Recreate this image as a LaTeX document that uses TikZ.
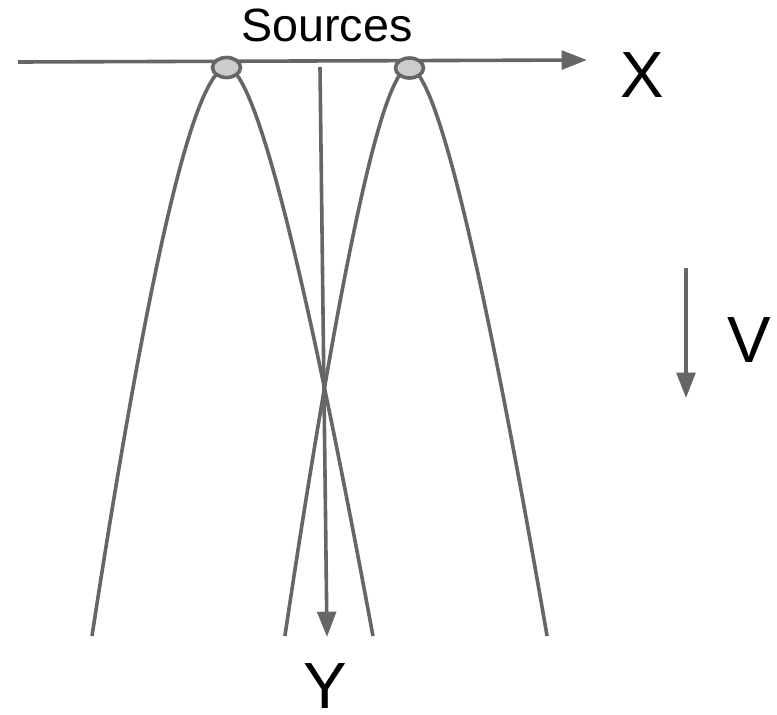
\documentclass[tikz,border=0pt]{standalone}
\usepackage{fontspec}
\setmainfont{Liberation Sans}
\usetikzlibrary{arrows.meta,shapes.geometric}
\definecolor{ln}{HTML}{666666}
\definecolor{srcfill}{HTML}{CCCCCC}
\begin{document}
\begin{tikzpicture}[x=0.75pt,y=-0.75pt,
  curve/.style={draw=ln,line width=2.7pt,line join=round},
  axis/.style={draw=ln,line width=2.7pt,-{Triangle[length=19pt,width=14pt]}},
  src/.style={ellipse,draw=ln,fill=srcfill,line width=2.7pt,inner sep=0pt,minimum width=21pt,minimum height=15pt},
  biglbl/.style={anchor=base,font=\fontsize{49}{55}\selectfont,inner sep=0pt},
  smlbl/.style={anchor=base,font=\fontsize{35}{40}\selectfont,inner sep=0pt},
  leg/.style={samples=90,variable=\t,smooth}]
\useasboundingbox (0,0) rectangle (777,714);
% wavefronts
\draw[curve] plot[leg,domain=568:0] ({227-4.02*sqrt(\t)-0.069*\t},{68+\t})
          -- plot[leg,domain=0:568] ({227+3.42*sqrt(\t)+0.1135*\t},{68+\t});
\draw[curve] plot[leg,domain=568:0] ({409-3.27*sqrt(\t)-0.0813*\t},{68+\t})
          -- plot[leg,domain=0:568] ({409+3.32*sqrt(\t)+0.1038*\t},{68+\t});
% axes
\coordinate (xs) at (18,62);
\coordinate (xe) at (587,60);
\coordinate (ys) at (320,67);
\coordinate (ye) at (327,637);
\coordinate (vs) at (686,268);
\coordinate (ve) at (686,398);
\draw[axis] (xs) -- (xe);
\draw[axis] (ys) -- (ye);
\draw[axis] (vs) -- (ve);
% sources
\node[src] (s1) at (226.5,67.5) {};
\node[src] (s2) at (409.5,68) {};
% labels
\node[smlbl] (lsrc) at (327,41) {Sources};
\node[biglbl] (lx) at (642,97) {X};
\node[biglbl] (lv) at (749,362) {V};
\node[biglbl] (ly) at (325,708) {Y};
\end{tikzpicture}
\end{document}
